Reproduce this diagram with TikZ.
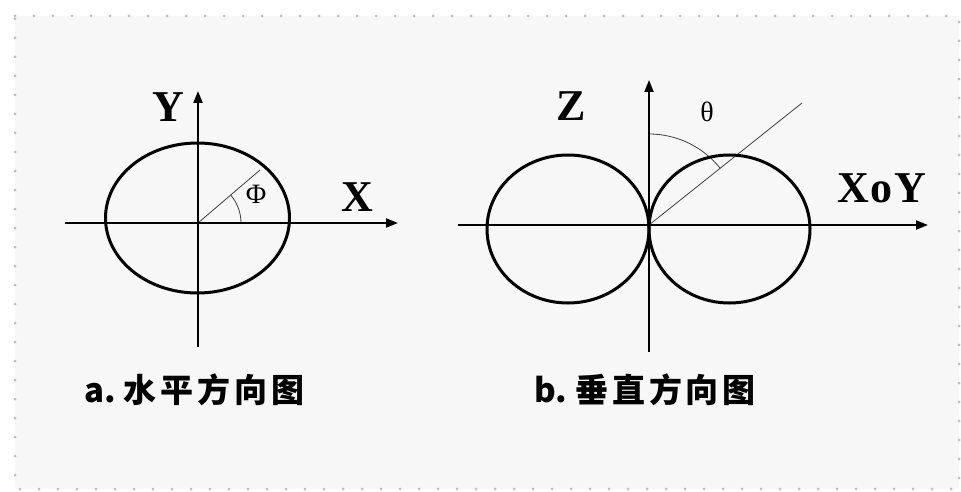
\documentclass[tikz,border=0pt]{standalone}
\usepackage{fontspec}
\setmainfont{Liberation Serif}
\newfontfamily\cjk{Noto Sans CJK SC}
\usetikzlibrary{arrows.meta}
\definecolor{bg}{HTML}{F7F7F7}
\definecolor{dotc}{HTML}{BDBDBD}
\tikzset{
  axis/.style={line width=2pt, -{Triangle[length=12pt,width=9pt]}},
  lobe/.style={line width=3pt},
  thinline/.style={line width=0.8pt, black!75},
  lbl/.style={font=\fontsize{44}{46}\selectfont\bfseries, inner sep=0pt},
  glbl/.style={font=\fontsize{28}{30}\selectfont, inner sep=0pt},
  captxt/.style={font=\cjk\fontsize{33}{35}\selectfont\bfseries, inner sep=0pt, anchor=west}
}
\begin{document}
\begin{tikzpicture}[x=1pt,y=-1pt]
\useasboundingbox (0,0) rectangle (961,492);
\fill[white] (0,0) rectangle (961,492);
\fill[bg] (15,16) rectangle (959,489);
\draw[dotc, line width=3pt, line cap=round, dash pattern=on 0pt off 19pt] (15,16) -- (959,16) -- (959,489) -- (15,489) -- cycle;

% ---- left diagram ----
\coordinate (O1) at (198,223);
\coordinate (xl) at (65,223);
\coordinate (xr) at (398,223);
\coordinate (yb) at (198,347);
\coordinate (yt) at (198,91);
\coordinate (p1) at (260,170);
\draw[thinline] (O1) -- (p1);
\draw[thinline] (241,223) arc[start angle=0, end angle=-40.5, radius=43];
\draw[lobe] (197.5,218) ellipse[x radius=92, y radius=75];
\draw[axis] (xl) -- (xr);
\draw[axis] (yb) -- (yt);
\node[lbl] (Y) at (168,107) {Y};
\node[lbl] (X) at (357,197) {X};
\node[glbl] (phi) at (256,194) {Φ};

% ---- right diagram ----
\coordinate (O2) at (649,225);
\coordinate (hl) at (458,225);
\coordinate (hr) at (928,225);
\coordinate (zb) at (649,352);
\coordinate (zt) at (649,80);
\coordinate (p2) at (802,103);
\draw[thinline] (O2) -- (p2);
\draw[thinline] (649,134) arc[start angle=-90, end angle=-38.6, radius=91];
\draw[lobe] (568,229) ellipse[x radius=81, y radius=74];
\draw[lobe] (729.5,229) ellipse[x radius=80.5, y radius=74];
\draw[axis] (hl) -- (hr);
\draw[axis] (zb) -- (zt);
\node[lbl] (Z) at (571,106) {Z};
\node[lbl] (XoY) at (882,188) {\addfontfeature{LetterSpace=4}XoY};
\node[glbl] (theta) at (707,112) {θ};

% ---- captions ----
\node[captxt] (capa) at (84,390) {a.\hspace{8pt}\addfontfeature{LetterSpace=12}水平方向图};
\node[captxt] (capb) at (534,390) {b.\hspace{8pt}\addfontfeature{LetterSpace=12}垂直方向图};
\end{tikzpicture}
\end{document}
